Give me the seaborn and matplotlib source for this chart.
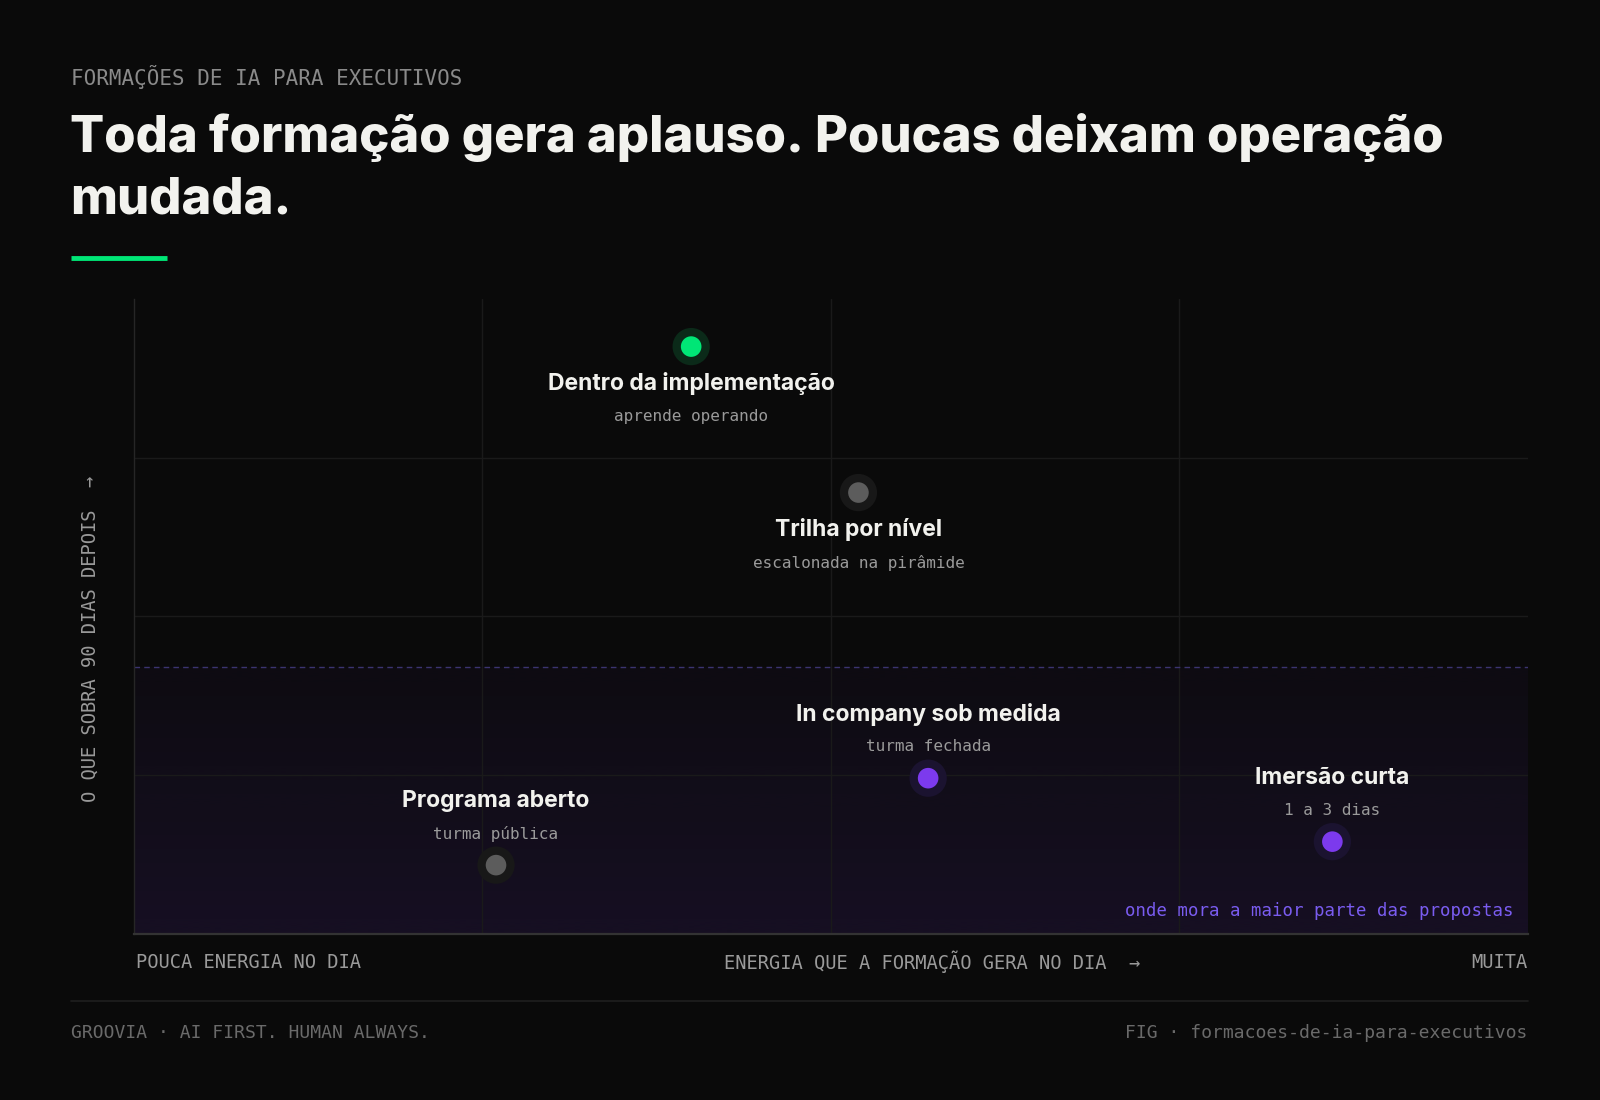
import numpy as np
import pandas as pd
import matplotlib.pyplot as plt
import seaborn as sns
from matplotlib.colors import to_rgb
from matplotlib.lines import Line2D

# dados do gráfico
formatos = ["Dentro da implementação", "Trilha por nível", "In company sob medida",
            "Imersão curta", "Programa aberto"]
descricoes = ["aprende operando", "escalonada na pirâmide", "turma fechada",
              "1 a 3 dias", "turma pública"]
energia = [40, 52, 57, 86, 26]              # energia que a formação gera no dia (0-100)
retencao = [92.5, 69.5, 24.5, 14.5, 10.8]   # o que sobra 90 dias depois (0-100)
grupo = ["destaque", "neutro", "comum", "comum", "neutro"]
limiar_propostas = 42                       # faixa onde mora a maior parte das propostas

kicker = "FORMAÇÕES DE IA PARA EXECUTIVOS"
titulo = "Toda formação gera aplauso. Poucas deixam operação\nmudada."
eixo_x = "ENERGIA QUE A FORMAÇÃO GERA NO DIA  →"
eixo_x_min = "POUCA ENERGIA NO DIA"
eixo_x_max = "MUITA"
eixo_y = "O QUE SOBRA 90 DIAS DEPOIS  →"
nota_faixa = "onde mora a maior parte das propostas"
rodape_esq = "GROOVIA · AI FIRST. HUMAN ALWAYS."
rodape_dir = "FIG · formacoes-de-ia-para-executivos"

cores = {"destaque": "#00e676", "neutro": "#5c5c5c", "comum": "#7c3aed"}
halos = {"destaque": "#0b2a19", "neutro": "#181818", "comum": "#1b1330"}

BG = "#0a0a0a"
MONO = ["DejaVu Sans Mono"]
SANS = ["Inter", "DejaVu Sans"]

df = pd.DataFrame({"formato": formatos, "descricao": descricoes, "energia": energia,
                   "retencao": retencao, "grupo": grupo})

sns.set_theme(style="dark")
plt.rcParams["font.family"] = SANS
plt.rcParams["figure.facecolor"] = BG
plt.rcParams["axes.facecolor"] = BG

fig = plt.figure(figsize=(16, 11), dpi=100)
ax = fig.add_axes([0.0835, 0.1512, 0.8712, 0.577])
ax.set_facecolor(BG)

# faixa das propostas com gradiente roxo
roxo = to_rgb(cores["comum"])
alpha = np.linspace(0.035, 0.11, 256)
grad = np.zeros((256, 1, 4))
grad[:, 0, :3] = roxo
grad[:, 0, 3] = alpha
ax.imshow(grad, extent=(0, 100, 0, limiar_propostas), aspect="auto", zorder=0,
          interpolation="bilinear")
ax.axhline(limiar_propostas, color="#3b3470", lw=1, ls=(0, (4, 3)), zorder=1)

# halos e pontos
sns.scatterplot(data=df, x="energia", y="retencao", hue="grupo", palette=halos,
                s=720, linewidth=0, legend=False, ax=ax, zorder=2)
sns.scatterplot(data=df, x="energia", y="retencao", hue="grupo", palette=cores,
                s=220, linewidth=0, legend=False, ax=ax, zorder=3)

for _, r in df.iterrows():
    if r["retencao"] > limiar_propostas:
        off_t, off_d = -26.5, -50.5
    else:
        off_t, off_d = 46, 22.5
    ax.annotate(r["formato"], (r["energia"], r["retencao"]), xytext=(0, off_t),
                textcoords="offset points", ha="center", va="center",
                fontsize=16.5, fontweight="bold", color="#f2f2ee", family=SANS, zorder=4)
    ax.annotate(r["descricao"], (r["energia"], r["retencao"]), xytext=(0, off_d),
                textcoords="offset points", ha="center", va="center",
                fontsize=11.5, color="#9a9a9a", family=MONO, zorder=4)

ax.text(0.99, 0.035, nota_faixa, transform=ax.transAxes, ha="right", va="center",
        fontsize=12.5, color="#7a5cf0", family=MONO, zorder=4)

ax.set_xlim(0, 100)
ax.set_ylim(0, 100)
ax.set_xticks([25, 50, 75])
ax.set_yticks([25, 50, 75])
ax.set_xticklabels([])
ax.set_yticklabels([])
ax.tick_params(length=0)
ax.grid(True, color="#1a1a1a", lw=1)
ax.set_xlabel("")
ax.set_ylabel("")
for s in ["top", "right"]:
    ax.spines[s].set_visible(False)
ax.spines["left"].set_color("#262626")
ax.spines["left"].set_linewidth(1)
ax.spines["bottom"].set_color("#333333")
ax.spines["bottom"].set_linewidth(1.6)

# rótulos dos eixos
ax.text(0.0015, -0.045, eixo_x_min, transform=ax.transAxes, ha="left", va="center",
        fontsize=13.5, color="#9a9a9a", family=MONO)
ax.text(0.573, -0.045, eixo_x, transform=ax.transAxes, ha="center", va="center",
        fontsize=13.5, color="#9a9a9a", family=MONO)
ax.text(1.0, -0.045, eixo_x_max, transform=ax.transAxes, ha="right", va="center",
        fontsize=13.5, color="#9a9a9a", family=MONO)
ax.text(-0.031, 0.465, eixo_y, transform=ax.transAxes, ha="center", va="center",
        rotation=90, fontsize=13.5, color="#9a9a9a", family=MONO)

# cabeçalho
fig.text(0.0446, 0.930, kicker, ha="left", va="center", fontsize=15,
         color="#8a8a8a", family=MONO)
fig.text(0.0440, 0.897, titulo, ha="left", va="top", fontsize=36.5, fontweight="heavy",
         color="#f2f2ee", family=SANS, linespacing=1.38)
fig.add_artist(Line2D([0.0446, 0.1046], [0.7655, 0.7655], color="#00e676", lw=3.5,
                      transform=fig.transFigure, solid_capstyle="butt"))

# rodapé
fig.add_artist(Line2D([0.0446, 0.9547], [0.09, 0.09], color="#1f1f1f", lw=1.2,
                      transform=fig.transFigure))
fig.text(0.0446, 0.061, rodape_esq, ha="left", va="center", fontsize=13,
         color="#6a6a6a", family=MONO)
fig.text(0.9547, 0.061, rodape_dir, ha="right", va="center", fontsize=13,
         color="#6a6a6a", family=MONO)

fig.savefig("out.png", dpi=100, facecolor=BG)
